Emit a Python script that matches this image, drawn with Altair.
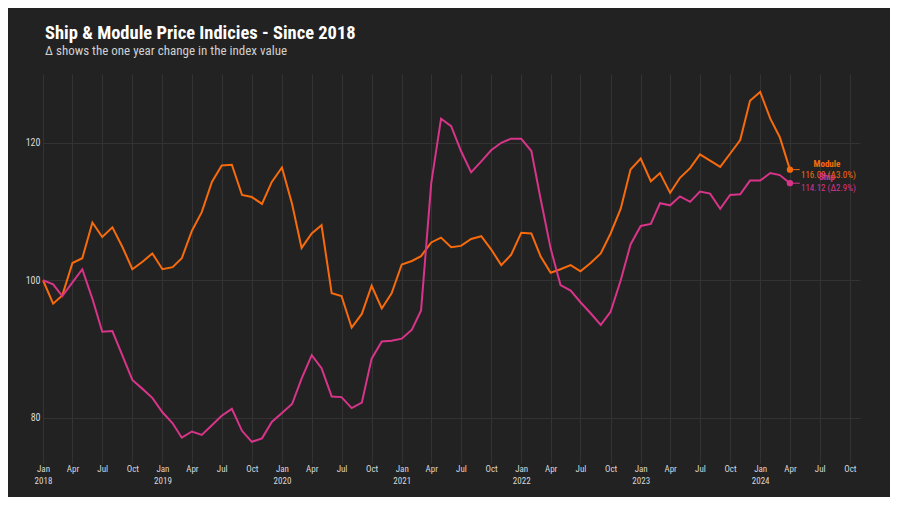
import altair as alt
import pandas as pd

# Monthly index values, Jan 2018 .. Apr 2024
months = pd.date_range("2018-01-01", "2024-04-01", freq="MS")

module_values = [
    100.0, 96.6, 97.8, 102.5, 103.2, 108.4, 106.3, 107.7, 104.8, 101.6, 102.7, 103.9,
    101.6, 101.9, 103.2, 107.2, 109.9, 114.3, 116.7, 116.8, 112.4, 112.1, 111.1, 114.3,
    116.4, 111.1, 104.7, 106.8, 108.0, 98.1, 97.7, 93.1, 95.1, 99.2, 95.9, 98.1,
    102.3, 102.8, 103.5, 105.5, 106.2, 104.8, 105.0, 106.0, 106.4, 104.5, 102.2, 103.7,
    106.9, 106.8, 103.5, 101.1, 101.6, 102.2, 101.3, 102.5, 103.9, 106.8, 110.4, 116.1,
    117.7, 114.4, 115.6, 112.71, 114.9, 116.3, 118.3, 117.4, 116.5, 118.4, 120.4, 126.1,
    127.4, 123.5, 120.8, 116.09,
]

ship_values = [
    100.0, 99.4, 97.7, 99.7, 101.6, 97.3, 92.5, 92.6, 89.0, 85.5, 84.2, 82.9,
    80.8, 79.2, 77.1, 78.0, 77.5, 78.9, 80.3, 81.3, 78.1, 76.5, 77.0, 79.4,
    80.7, 82.0, 85.7, 89.1, 87.2, 83.1, 83.0, 81.4, 82.2, 88.6, 91.1, 91.2,
    91.5, 92.8, 95.6, 114.1, 123.5, 122.4, 118.8, 115.7, 117.3, 118.9, 120.0, 120.6,
    120.6, 118.8, 111.9, 104.6, 99.3, 98.5, 96.8, 95.2, 93.5, 95.4, 100.0, 105.2,
    107.9, 108.2, 111.2, 110.90, 112.2, 111.4, 112.9, 112.6, 110.4, 112.4, 112.5, 114.5,
    114.5, 115.6, 115.3, 114.12,
]

series_names = ["Module", "Ship"]
series_colors = ["#f76b0c", "#d8348a"]
y_ticks = [80, 100, 120]

df = pd.DataFrame({
    "date": list(months) * 2,
    "value": module_values + ship_values,
    "series": ["Module"] * len(module_values) + ["Ship"] * len(ship_values),
})

# end labels with one-year change
rows = []
for name, vals in zip(series_names, [module_values, ship_values]):
    last = vals[-1]
    prev = vals[-13]
    pct = (last / prev - 1) * 100
    rows.append({
        "series": name,
        "date": months[-1],
        "lead": months[-1] + pd.DateOffset(months=1),
        "value": last,
        "label": f"{last:.2f} (\u0394{pct:.1f}%)",
    })
lab = pd.DataFrame(rows)

FONT = "Liberation Sans Narrow, Roboto Condensed, DejaVu Sans Condensed, Roboto, sans-serif"

color = alt.Color("series:N", scale=alt.Scale(domain=series_names, range=series_colors), legend=None)

x = alt.X(
    "date:T",
    scale=alt.Scale(domain=[alt.DateTime(year=2018, month=1, date=1),
                            alt.DateTime(year=2024, month=11, date=1)]),
    axis=alt.Axis(
        title=None,
        tickCount=alt.TickCount(interval="month", step=3),
        labelExpr="month(datum.value) == 0 ? [timeFormat(datum.value, '%b'), timeFormat(datum.value, '%Y')] : timeFormat(datum.value, '%b')",
        grid=True, gridColor="#333333", domain=False,
        tickColor="#333333", tickSize=4,
        labelColor="#d8d8d8", labelFontSize=9, labelPadding=1, labelFont=FONT,
        labelLineHeight=12, labelFlush=False,
    ),
)
y = alt.Y(
    "value:Q",
    scale=alt.Scale(domain=[74, 130], nice=False, zero=False),
    axis=alt.Axis(
        title=None, values=y_ticks, domain=False, ticks=False,
        labelColor="#d8d8d8", labelFontSize=10, labelPadding=3, labelFont=FONT,
        gridColor="#333333",
    ),
)

lines = alt.Chart(df).mark_line(strokeWidth=2).encode(x=x, y=y, color=color)

lb = alt.Chart(lab)
points = lb.mark_circle(size=40, opacity=1).encode(x="date:T", y="value:Q", color=color)
leads = lb.mark_rule(strokeWidth=1).encode(x="date:T", x2="lead:T", y="value:Q", color=color)
vals_txt = lb.mark_text(align="left", dx=11, dy=5, fontSize=9, font=FONT).encode(
    x="date:T", y="value:Q", text="label:N", color=color)
name_txt = lb.mark_text(align="center", dx=37, dy=-6, fontSize=9, fontWeight="bold", font=FONT).encode(
    x="date:T", y="value:Q", text="series:N", color=color)

chart = alt.layer(lines, leads, points, vals_txt, name_txt).properties(
    width=817,
    height=385,
    autosize=alt.AutoSizeParams(type="none"),
    padding={"left": 35, "top": 66, "right": 30, "bottom": 38},
    title=alt.TitleParams(
        text="Ship & Module Price Indicies - Since 2018",
        subtitle="\u0394 shows the one year change in the index value",
        anchor="start", frame="group", dx=2,
        color="#ffffff", fontSize=18.5, fontWeight="bold", font=FONT,
        subtitleColor="#d0d0d0", subtitleFontSize=13, subtitleFont=FONT,
        subtitlePadding=3, offset=16,
    ),
).configure(background="#222222").configure_view(stroke=None)

chart.save("out.html", embed_options={"renderer": "svg", "actions": False})
